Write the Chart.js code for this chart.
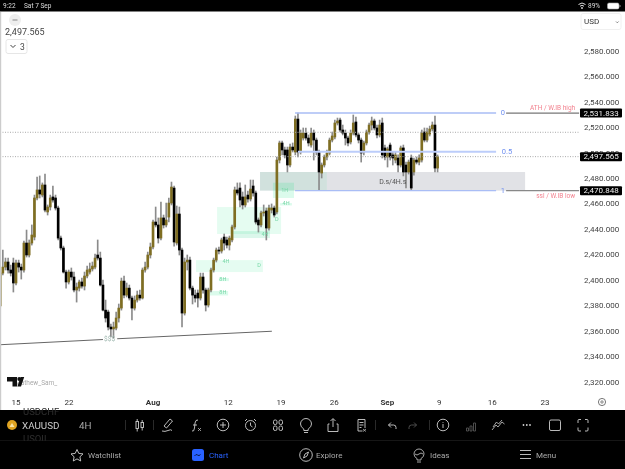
<!DOCTYPE html>
<html>
<head>
<meta charset="utf-8">
<title>XAUUSD 4H</title>
<script src="https://cdn.jsdelivr.net/npm/chart.js@4/dist/chart.umd.min.js"></script>
<style>
  html, body { margin: 0; padding: 0; background: #fff; overflow: hidden; }
  body { width: 625px; height: 469px; position: relative; font-family: Roboto, sans-serif; }
  #price-chart { position: absolute; left: 0; top: 12px; }
  #chrome { position: absolute; left: 0; top: 0; pointer-events: none; }
</style>
</head>
<body>
<canvas id="price-chart" width="625" height="398"></canvas>
<svg id="chrome" width="625" height="469" font-family="Roboto, sans-serif">
  <!-- status bar -->
  <rect width="625" height="11.5" fill="#000"/>
  <text x="3" y="8" font-size="6.5" fill="#ddd">9:22</text>
  <text x="24" y="8" font-size="6.5" fill="#ddd">Sat 7 Sep</text>
  <path d="M578.5 4.5q3.5-3 7 0M580 6.2q2-1.7 4 0" stroke="#ddd" fill="none"/><circle cx="582" cy="8" r=".9" fill="#ddd"/>
  <text x="588" y="8" font-size="6.5" fill="#ddd">89%</text>
  <rect x="607.5" y="3" width="11.5" height="6" rx="1.5" fill="#fff" stroke="#aaa" stroke-width=".6"/>
  <rect x="619.6" y="5" width=".8" height="2" fill="#aaa"/>
  <rect y="12" width="1.2" height="398" fill="#ccc"/>

  <!-- top left and currency controls -->
  <circle cx="15" cy="20" r="6" fill="#eee"/><path d="M12.5 20h5" stroke="#888"/>
  <text x="5" y="35" font-size="9" fill="#444">2,497.565</text>
  <rect x="6" y="39.5" width="21" height="14" rx="2" fill="#fff" stroke="#e6e6e6"/>
  <path d="M10.5 45l2.5 2.5 2.5-2.5" stroke="#444" fill="none"/>
  <text x="20" y="49.5" font-size="8.5" fill="#444">3</text>
  <rect x="581" y="13.5" width="40" height="16" rx="2" fill="#fff" stroke="#f0f0f0"/>
  <text x="584" y="24" font-size="8" fill="#333">USD</text>
  <path d="M616 21.5l1.3 1.3 1.3-1.3" stroke="#666" fill="none" stroke-width=".8"/>

  <!-- watermark -->
  <text x="15" y="385" font-size="6.5" fill="#aaa">Mathew_Sam_</text>
  <path d="M7 377h10v9.5h-4.5v-5H7z" fill="#111"/><circle cx="19.2" cy="379" r="1.9" fill="#111"/>
  <path d="M21 386.5l3.2-9.5h-3.6l-3.2 9.5z" fill="#111"/>

  <!-- time axis settings button -->
  <circle cx="602" cy="402" r="3.6" fill="none" stroke="#555" stroke-width=".8"/><circle cx="602" cy="402" r="1.2" fill="none" stroke="#555" stroke-width=".7"/>

  <!-- bottom toolbar -->
  <rect y="410" width="625" height="59" fill="#000"/>
  <path d="M0 440.5h625" stroke="#161616"/>
  <text x="23" y="415" font-size="9.5" fill="#2e2e2e">USDCHF</text>
  <text x="23" y="442" font-size="9.5" fill="#2e2e2e">USOIL</text>
  <rect y="440.8" width="70" height="4" fill="#000"/>
  <circle cx="12" cy="425" r="5" fill="#dfa321"/><path d="M9.5 427l2.500-4 2.500 4z" fill="#f8e3a8"/>
  <text x="22" y="428.500" font-size="9.8" fill="#ccc">XAUUSD</text>
  <text x="79" y="428.500" font-size="9.8" fill="#aaa">4H</text>
  <path d="M125.500 420v10M153.500 420v10M375.500 420v10M429.500 420v10" stroke="#2a2a2a"/>
  <g fill="none" stroke="#cfcfcf" stroke-width=".9">
    <rect x="136" y="421.500" width="2.500" height="7"/><rect x="141" y="422.500" width="2.500" height="5"/><path d="M137.200 419v2.500M137.200 428.500v3M142.200 420v2.500M142.200 427.500v3"/>
    <path d="M162 431q3 1 6-.5t4 0M164 426l6-7 2.500 2-6 7z"/>
    <path d="M192 431q2 1 2.500-3l.5-5q.5-3.500 3-3M193 425h4"/><path d="M198 428l3 3M201 428l-3 3" stroke-width=".7"/>
    <circle cx="223" cy="425" r="5.800"/><path d="M223 422v6M220 425h6"/>
    <circle cx="250.500" cy="425.500" r="5"/><path d="M250.500 422.500v3l2 1.500M245 421l2-2M256 421l-2-2"/>
    <rect x="273.500" y="420" width="3.500" height="4.500" rx="1.500"/><rect x="279" y="420" width="3.500" height="4.500" rx="1.500"/><rect x="273.500" y="426" width="3.500" height="4.500" rx="1.500"/><rect x="279" y="426" width="3.500" height="4.500" rx="1.500"/>
    <path d="M303.800 429q-3.300-2-3.300-5a5.500 5.500 0 0 1 11 0q0 3-3.300 5v1.500h-4.400zM304 432.500h4"/>
    <path d="M329.500 424h-1.500v7.500h10v-7.500h-1.500M333 427v-8M330.500 421l2.500-2.500 2.500 2.500"/>
    <path d="M365 428v-8.500h-7v11.500h4.500M359.500 422.500h4M359.500 425h4M359.500 427.500h2"/><path d="M363 429l3 2.500M366 429l-3 2.500" stroke-width=".7"/>
    <path d="M396 429v-1.500q0-2.500-2.500-2.500h-5M391 422.500l-2.500 2.500 2.500 2.500"/>
    <path d="M409 429v-1.500q0-2.500 2.500-2.500h5M414 422.500l2.500 2.500-2.500 2.500" stroke="#555"/>
    <circle cx="443" cy="425" r="5.800"/><path d="M443 424v4M443 422v.8"/>
    <path d="M466.500 431v-3h2v3zM470 431v-5h2v5zM473.500 431v-8h2v8z" stroke="#555"/>
    <path d="M492 430l4-5 2 2 4-5 2.500 2M493 427l3.500-5 2 2 3.500-4" stroke-width=".8"/>
    <rect x="549.500" y="420" width="11" height="10.500" rx="1.500"/>
    <path d="M578 423v-2.500q0-1 1-1h2M585 419.500h2q1 0 1 1v2.500M588 427.500v2.500q0 1-1 1h-2M581 431h-2q-1 0-1-1v-2.500"/>
  </g>
  <g fill="#cfcfcf"><circle cx="523.500" cy="425" r=".9"/><circle cx="526.800" cy="425" r=".9"/><circle cx="530" cy="425" r=".9"/></g>

  <!-- bottom navigation -->
  <g fill="none" stroke="#cfcfcf" stroke-width=".9">
    <path d="M77 449.500l1.800 3.900 4.200.5-3.100 2.900.8 4.200-3.700-2.100-3.700 2.100.8-4.200-3.100-2.900 4.200-.5z"/>
    <circle cx="306" cy="455" r="6.300"/><path d="M303.500 458l1.500-4 3.500-2-1.500 4z"/>
    <path d="M417 458.500q-3-1.500-3-4.500a5 5 0 0 1 10 0q0 3-3 4.500v1.500h-4zM417 462h4M415 454q2 2 4 0t4 0" stroke-width=".8"/>
    <path d="M520 450.500h11M520 454.500h11M520 458.500h11"/>
  </g>
  <rect x="192" y="449" width="12" height="12" rx="2.500" fill="#2962ff"/>
  <path d="M194.500 456q1.500-2.500 3-1t3-.5" fill="none" stroke="#0b1a45"/>
  <g font-size="8">
    <text x="88" y="458" fill="#aaa">Watchlist</text>
    <text x="209" y="458" fill="#2962ff">Chart</text>
    <text x="316" y="458" fill="#aaa">Explore</text>
    <text x="430" y="458" fill="#aaa">Ideas</text>
    <text x="536" y="458" fill="#aaa">Menu</text>
  </g>
</svg>

<script>
// 4H XAUUSD candles, oldest first
var opens = [2380.2,2406.1,2410.8,2414.8,2408.5,2414.0,2398.3,2414.0,2410.8,2408.5,2429.7,2420.3,2429.7,2434.4,2465.1,2471.4,2467.4,2475.3,2454.1,2458.0,2465.9,2465.1,2457.2,2433.6,2425.8,2406.9,2399.1,2406.9,2403.0,2392.8,2394.3,2399.1,2395.9,2403.8,2406.9,2409.3,2410.8,2420.3,2417.9,2396.7,2377.0,2375.5,2363.7,2362.2,2362.9,2370.8,2378.6,2399.8,2388.8,2394.3,2386.5,2378.6,2384.9,2388.8,2386.5,2408.5,2410.8,2420.3,2426.6,2446.2,2443.9,2433.6,2449.4,2443.9,2450.1,2461.1,2472.9,2429.7,2452.5,2424.2,2374.7,2414.8,2416.3,2394.3,2388.8,2390.4,2386.5,2403.0,2392.8,2381.0,2392.8,2408.5,2416.3,2424.2,2423.4,2434.4,2432.1,2428.1,2432.1,2442.3,2471.4,2472.9,2465.9,2459.6,2467.4,2464.3,2474.5,2469.0,2447.8,2443.9,2453.3,2454.9,2441.5,2455.6,2457.2,2454.1,2494.9,2508.3,2502.8,2502.8,2491.0,2505.1,2501.2,2527.1,2501.2,2512.2,2516.1,2512.2,2506.7,2516.1,2510.6,2501.2,2484.7,2491.0,2497.3,2500.4,2510.6,2513.0,2524.0,2526.3,2518.5,2516.1,2512.2,2509.1,2516.1,2524.8,2514.6,2510.6,2501.2,2508.3,2516.9,2522.4,2525.6,2520.1,2514.6,2524.0,2504.4,2497.3,2506.7,2498.9,2494.9,2496.5,2491.0,2504.4,2491.0,2485.5,2496.5,2485.5,2494.9,2493.3,2494.9,2516.9,2510.6,2515.3,2519.3,2522.4,2488.6];
var highs = [2408.5,2424.2,2417.9,2417.9,2412.4,2417.9,2416.3,2416.3,2413.2,2431.3,2439.9,2432.1,2443.9,2467.4,2481.6,2482.4,2476.9,2483.9,2459.6,2467.4,2474.5,2467.4,2458.8,2435.2,2427.3,2408.5,2408.5,2410.1,2406.9,2398.3,2400.6,2402.2,2406.9,2411.6,2414.0,2414.8,2421.1,2432.1,2422.6,2400.6,2384.9,2377.0,2366.1,2367.6,2375.5,2381.8,2402.2,2403.8,2398.3,2396.7,2388.1,2388.1,2392.0,2392.8,2410.1,2414.8,2422.6,2429.7,2447.8,2458.0,2449.4,2461.9,2451.7,2461.1,2465.1,2477.6,2474.5,2458.8,2458.0,2425.8,2417.9,2420.3,2418.7,2395.9,2392.8,2392.8,2406.1,2406.1,2394.3,2394.3,2410.1,2417.9,2425.8,2426.6,2433.6,2436.8,2434.4,2435.2,2443.9,2473.7,2476.9,2476.9,2469.8,2475.3,2470.6,2479.2,2479.2,2470.6,2449.4,2454.9,2459.6,2457.2,2459.6,2460.4,2458.8,2497.3,2509.8,2509.8,2505.1,2505.1,2507.5,2508.3,2529.5,2531.833,2518.5,2520.1,2520.1,2514.6,2520.1,2518.5,2512.2,2502.8,2492.6,2498.9,2502.8,2512.2,2516.9,2526.3,2527.9,2527.9,2522.4,2518.5,2513.8,2518.5,2530.3,2528.7,2516.1,2512.2,2509.8,2518.5,2524.0,2528.7,2527.1,2522.4,2526.3,2527.9,2506.7,2505.1,2508.3,2501.2,2501.2,2498.9,2505.9,2506.7,2493.3,2494.9,2498.9,2496.5,2497.3,2498.9,2518.5,2520.1,2520.1,2521.6,2524.8,2529.5,2498.9];
var lows = [2378.6,2404.6,2408.5,2406.1,2403.8,2391.2,2396.7,2406.9,2401.4,2406.9,2418.7,2418.7,2428.1,2432.1,2463.5,2465.1,2465.9,2454.1,2451.7,2455.6,2461.9,2455.6,2432.1,2424.2,2406.1,2394.3,2397.5,2400.6,2391.2,2383.3,2392.0,2394.3,2392.8,2402.2,2405.3,2407.7,2409.3,2416.3,2395.9,2376.3,2367.6,2361.4,2355.9,2355.1,2361.4,2367.6,2377.0,2386.5,2387.3,2384.9,2369.2,2377.0,2383.3,2384.9,2385.7,2406.9,2409.3,2417.9,2425.0,2442.3,2429.7,2432.1,2441.5,2442.3,2446.2,2459.6,2427.3,2428.1,2420.3,2363.7,2373.1,2408.5,2392.8,2381.8,2383.3,2379.4,2384.9,2390.4,2376.3,2379.4,2391.2,2406.9,2414.8,2421.1,2421.8,2424.2,2425.8,2424.2,2430.5,2440.7,2467.4,2458.0,2456.4,2458.0,2461.9,2462.7,2466.6,2444.6,2438.3,2442.3,2450.9,2432.1,2439.9,2453.3,2450.1,2452.5,2492.6,2498.9,2496.5,2485.5,2489.4,2501.2,2498.9,2497.3,2499.6,2510.6,2510.6,2505.9,2505.1,2494.9,2498.9,2470.848,2480.8,2489.4,2494.9,2498.9,2509.1,2511.4,2522.4,2516.9,2514.6,2506.7,2505.9,2507.5,2514.6,2513.0,2508.3,2493.3,2498.9,2506.7,2515.3,2518.5,2518.5,2512.2,2513.0,2496.5,2494.9,2489.4,2494.9,2491.0,2492.6,2485.5,2489.4,2482.4,2472.9,2483.9,2470.848,2483.1,2491.8,2491.0,2493.3,2509.1,2509.1,2513.8,2517.7,2485.5,2485.5];
var closes = [2406.1,2410.8,2414.8,2408.5,2406.1,2398.3,2414.0,2410.8,2408.5,2429.7,2420.3,2429.7,2436.0,2465.1,2471.4,2468.2,2475.3,2455.6,2458.0,2465.1,2463.5,2457.2,2433.6,2425.8,2406.9,2399.1,2406.9,2403.0,2392.8,2395.1,2399.1,2395.9,2403.8,2408.5,2409.3,2411.6,2417.9,2417.9,2396.7,2377.0,2370.8,2363.7,2362.2,2363.7,2370.8,2378.6,2399.8,2388.8,2394.3,2386.5,2378.6,2384.9,2388.8,2386.5,2408.5,2410.8,2420.3,2426.6,2446.2,2443.9,2433.6,2449.4,2443.9,2447.8,2461.1,2473.7,2430.5,2452.5,2424.2,2374.7,2414.8,2416.3,2394.3,2388.8,2386.5,2386.5,2403.0,2392.8,2381.0,2392.8,2408.5,2416.3,2424.2,2423.4,2432.1,2429.7,2428.1,2433.6,2442.3,2471.4,2469.0,2463.5,2459.6,2465.9,2464.3,2472.1,2469.0,2446.2,2443.9,2453.3,2454.1,2441.5,2457.2,2457.2,2451.7,2494.9,2508.3,2502.8,2498.9,2491.0,2505.1,2502.8,2527.1,2501.2,2516.1,2516.1,2512.2,2508.3,2516.1,2510.6,2501.2,2485.5,2491.0,2497.3,2500.4,2510.6,2513.8,2524.0,2525.6,2518.5,2516.1,2512.2,2508.3,2516.1,2524.0,2514.6,2510.6,2500.4,2508.3,2516.9,2522.4,2525.6,2520.1,2514.6,2522.4,2498.9,2497.3,2503.6,2497.3,2496.5,2498.9,2491.0,2504.4,2485.5,2485.5,2493.3,2472.9,2494.9,2493.3,2496.5,2516.1,2510.6,2516.9,2519.3,2522.4,2488.6,2497.565];

// time axis, positions given in bars
var timeTickBars = [6, 26.1, 58, 86.5, 106.6, 126.8, 146.9, 166.6, 186.7, 206.8];
var timeTickLabels = ['15', '22', 'Aug', '12', '19', '26', 'Sep', '9', '16', '23'];
var boldTicks = ['Aug', 'Sep'];

// price axis
var priceTicks = [2320, 2340, 2360, 2380, 2400, 2420, 2440, 2460, 2480, 2500, 2520, 2540, 2560, 2580];
var lastPrice = 2497.565;
var athLevel = 2531.833;
var midLevel = 2501.34;
var lowLevel = 2470.848;
var upperDotted = 2516.7;

// supply and demand zones: from bar, to bar, upper price, lower price
var zoneBars = [[98.6, 199.2], [98.6, 124], [103.5, 111.5], [82.3, 106.6], [88.4, 102.4], [106.2, 110.7], [74.3, 99.7], [83, 86.8], [79.6, 86.5]];
var zonePrices = [[2485.5, 2470.848], [2485.5, 2470.848], [2477.1, 2465.1], [2458.0, 2436.8], [2439.1, 2433.6], [2461.1, 2459.2], [2416.3, 2406.9], [2402.2, 2399.8], [2392.0, 2388.5]];
var zoneColors = ['rgba(120,123,140,.22)', 'rgba(0,210,120,.07)', 'rgba(0,225,120,.14)', 'rgba(0,225,120,.1)', 'rgba(0,200,110,.14)', 'rgba(0,225,120,.14)', 'rgba(0,225,120,.1)', 'rgba(0,225,120,.14)', 'rgba(0,225,120,.14)'];

// green timeframe tags inside the zones
var tagTexts = ['1H', '4H', 'D', '4H', '4H', 'D', '8H', '8H'];
var tagBars = [108, 108.5, 105, 100.5, 85.7, 98.2, 84.5, 84.5];
var tagPrices = [2470.5, 2460.3, 2447.8, 2436.3, 2415.2, 2411.7, 2401.1, 2390.4];

function point(x, y) { return { x: x, y: y }; }

var candles = opens.map(function (o, i) { return point(i, [o, closes[i]]); });
var wicks = highs.map(function (h, i) { return point(i, [lows[i], h]); });

function level(price, from, to, color, width, dash) {
  return {
    type: 'line',
    data: [point(from, price), point(to, price)],
    borderColor: color,
    borderWidth: width,
    borderDash: dash || [],
    pointRadius: 0,
    order: 0
  };
}

function drawZones(chart) {
  var x = chart.scales.x, y = chart.scales.y, ctx = chart.ctx;
  ctx.save();
  zoneBars.forEach(function (b, i) {
    var left = x.getPixelForValue(b[0]), top = y.getPixelForValue(zonePrices[i][0]);
    ctx.fillStyle = zoneColors[i];
    ctx.fillRect(left, top, x.getPixelForValue(b[1]) - left, y.getPixelForValue(zonePrices[i][1]) - top);
  });
  ctx.restore();
}

function label(chart, text, bar, price, color, font, align) {
  var ctx = chart.ctx;
  ctx.fillStyle = color;
  ctx.font = font;
  ctx.textAlign = align || 'center';
  ctx.textBaseline = 'middle';
  ctx.fillText(text, chart.scales.x.getPixelForValue(bar), chart.scales.y.getPixelForValue(price));
}

function priceTag(chart, price) {
  var ctx = chart.ctx, py = chart.scales.y.getPixelForValue(price);
  ctx.fillStyle = '#000';
  ctx.beginPath();
  ctx.roundRect(580, py - 4.5, 42, 9, 1);
  ctx.fill();
  ctx.fillStyle = '#eee';
  ctx.font = '8px Roboto';
  ctx.textAlign = 'left';
  ctx.textBaseline = 'middle';
  ctx.fillText(price.toLocaleString('en-US', { minimumFractionDigits: 3 }), 583.5, py + .5);
}

var drawings = {
  id: 'drawings',
  beforeDatasetsDraw: drawZones,
  afterDraw: function (chart) {
    var ctx = chart.ctx;
    ctx.save();
    tagTexts.forEach(function (t, i) {
      label(chart, t, tagBars[i], tagPrices[i], '#78d8a8', '5.5px Roboto');
    });
    label(chart, 'D.s/4H.s', 149, 2477.6, '#555', '7px Roboto');
    label(chart, 'ATH / W.IB high', 218.2, 2535.4, '#f2828f', '6.5px Roboto', 'right');
    label(chart, 'ssl / W.IB low', 218.2, 2466.5, '#f2828f', '6.5px Roboto', 'right');
    label(chart, '0', 190.8, athLevel, '#6f8ff0', '7.5px Roboto');
    label(chart, '0.5', 192.3, midLevel, '#6f8ff0', '7.5px Roboto');
    label(chart, '1', 190.8, lowLevel, '#6f8ff0', '7.5px Roboto');
    label(chart, '$$$', 41.5, 2354.2, '#9fb8b0', '6.5px Roboto');
    priceTag(chart, athLevel);
    priceTag(chart, lastPrice);
    priceTag(chart, lowLevel);
    ctx.restore();
  }
};

new Chart(document.getElementById('price-chart'), {
  type: 'bar',
  plugins: [drawings],
  data: {
    datasets: [
      level(upperDotted, -0.076, 220.04, '#aaa', 1, [1, 1.5]),
      level(lastPrice, -0.076, 220.04, '#aaa', 1, [1, 1.5]),
      level(athLevel, 111.9, 188.2, '#a9bdf5', 1.4),
      level(midLevel, 113, 188.2, '#bccdfa', 2),
      level(lowLevel, 111.9, 188.2, '#a9bdf5', 1.4),
      level(athLevel, 192, 219.7, '#777', 1.2),
      level(lowLevel, 192, 219.7, '#888', 1.2),
      {
        type: 'line',
        data: [point(-0.076, 2349.8), point(39, 2353.9), point(41, null), point(44.4, 2354.5), point(103.1, 2360.4)],
        borderColor: '#666',
        borderWidth: 1,
        pointRadius: 0,
        spanGaps: false,
        order: 0
      },
      {
        data: wicks,
        backgroundColor: '#8b8b8b',
        barThickness: 1,
        grouped: false,
        order: 2
      },
      {
        data: candles,
        backgroundColor: candles.map(function (c) { return c.y[1] >= c.y[0] ? '#7f6e22' : '#000'; }),
        barThickness: 2,
        minBarLength: 1,
        grouped: false,
        order: 1
      }
    ]
  },
  options: {
    responsive: false,
    animation: false,
    devicePixelRatio: 1,
    layout: { padding: 0 },
    plugins: { legend: { display: false }, tooltip: { enabled: false } },
    scales: {
      x: {
        type: 'linear',
        offset: false,
        min: -0.076,
        max: 220.04,
        border: { display: false },
        grid: { display: false, drawTicks: false },
        afterBuildTicks: function (scale) {
          scale.ticks = timeTickBars.map(function (v) { return { value: v }; });
        },
        afterFit: function (scale) {
          scale.height = 16;
          scale.paddingLeft = 0;
          scale.paddingRight = 0;
        },
        ticks: {
          autoSkip: false,
          maxRotation: 0,
          padding: 4,
          color: '#333',
          font: function (ctx) {
            var bold = ctx.index !== undefined && boldTicks.indexOf(timeTickLabels[ctx.index]) >= 0;
            return { family: 'Roboto', size: 8, weight: bold ? 'bold' : 'normal' };
          },
          callback: function (value, index) { return timeTickLabels[index]; }
        }
      },
      y: {
        position: 'right',
        min: 2311.1,
        max: 2611.2,
        border: { display: false },
        grid: { display: false, drawTicks: false },
        afterBuildTicks: function (scale) {
          scale.ticks = priceTicks.map(function (v) { return { value: v }; });
        },
        afterFit: function (scale) {
          scale.width = 45;
          scale.paddingTop = 0;
          scale.paddingBottom = 0;
        },
        ticks: {
          padding: 4,
          color: '#444',
          font: { family: 'Roboto', size: 8 },
          callback: function (value) {
            return value.toLocaleString('en-US', { minimumFractionDigits: 3 });
          }
        }
      }
    }
  }
});
</script>
</body>
</html>
